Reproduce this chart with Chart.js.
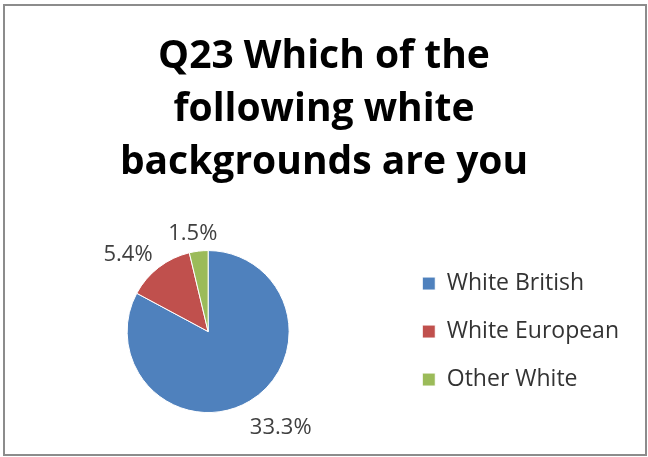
<!DOCTYPE html>
<html>
<head>
<meta charset="utf-8">
<script src="https://cdn.jsdelivr.net/npm/chart.js@4.4.0/dist/chart.umd.min.js"></script>
<style>
  html, body { margin: 0; padding: 0; background: #fff; }
  #wrap { position: relative; width: 648px; height: 457px; }
  #frame { position: absolute; left: 3px; top: 4px; width: 640px; height: 448px;
           border: 2px solid #8c8c8c; pointer-events: none; }
  canvas { position: absolute; left: 0; top: 0; }
</style>
</head>
<body>
<div id="wrap">
  <canvas id="chart" width="648" height="457"></canvas>
  <div id="frame"></div>
</div>
<script>
// valeurs
const titleLines = ['Q23 Which of the', 'following white', 'backgrounds are you'];
const categories = ['White British', 'White European', 'Other White'];
const values = [33.3, 5.4, 1.5];
const colors = ['#4F81BD', '#C0504D', '#9BBB59'];

// etiquettes "xx.x%" a l'exterieur de chaque part
const outsideLabels = {
  id: 'outsideLabels',
  afterDatasetsDraw(chart) {
    const ctx = chart.ctx;
    const meta = chart.getDatasetMeta(0);
    ctx.save();
    ctx.font = '22px "Open Sans"';
    ctx.fillStyle = '#404040';
    ctx.textAlign = 'center';
    ctx.textBaseline = 'middle';
    meta.data.forEach((arc, i) => {
      const p = arc.getProps(['x', 'y', 'startAngle', 'endAngle', 'outerRadius'], true);
      const mid = (p.startAngle + p.endAngle) / 2;
      const cx = Math.cos(mid), cy = Math.sin(mid);
      const txt = values[i].toFixed(1) + '%';
      const w = ctx.measureText(txt).width, h = 26;
      const r = p.outerRadius + 11;
      const ox = w / 2 * Math.max(-1, Math.min(1, cx * 1.6));
      const oy = h / 2 * cy + 6;
      ctx.fillText(txt, p.x + r * cx + ox, p.y + r * cy + oy);
    });
    ctx.restore();
  }
};

new Chart(document.getElementById('chart'), {
  type: 'pie',
  data: {
    labels: categories,
    datasets: [{
      data: values,
      backgroundColor: colors,
      borderColor: '#fff',
      borderWidth: 1,
      radius: 81
    }]
  },
  options: {
    responsive: false,
    animation: false,
    layout: { padding: { left: 19, right: 19, bottom: 13, top: 0 } },
    plugins: {
      tooltip: { enabled: false },
      title: {
        display: true,
        text: titleLines,
        color: '#000',
        font: { family: 'Open Sans', size: 39, weight: 'bold', lineHeight: 1.36 },
        padding: { top: 30, bottom: 30 }
      },
      legend: {
        position: 'right',
        fullSize: false,
        labels: {
          boxWidth: 13,
          boxHeight: 13,
          padding: 25,
          color: '#333',
          font: { family: 'Open Sans', size: 23 }
        }
      }
    }
  },
  plugins: [outsideLabels]
});
</script>
</body>
</html>
